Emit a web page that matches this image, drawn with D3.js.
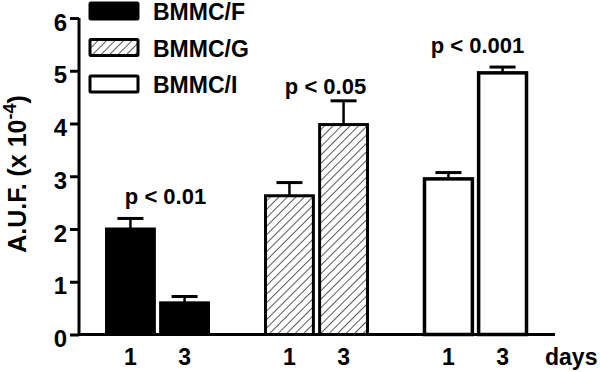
<!DOCTYPE html>
<html>
<head>
<meta charset="utf-8">
<script src="https://cdn.jsdelivr.net/npm/d3@7"></script>
<style>
  body { margin: 0; background: #fff; }
  text { font-family: "Liberation Sans", Arial, sans-serif; font-weight: bold; fill: #000; }
</style>
</head>
<body>
<div id="app"></div>
<script>
let groups = ['BMMC/F', 'BMMC/G', 'BMMC/I'];
let days = ['1', '3'];
let means = [[2.0, 0.6], [2.63, 3.98], [2.95, 4.96]];
let errors = [[0.2, 0.12], [0.25, 0.45], [0.12, 0.11]];
let pLabels = ['p < 0.01', 'p < 0.05', 'p < 0.001'];
let yTicks = [0, 1, 2, 3, 4, 5, 6];

let svgWidth = 600, svgHeight = 372;

// small nudges for the p labels, as placed in the figure
let pDx = [8, 9, 2];
let pDy = [-14, -7, -14];

let svg = d3.select('#app').append('svg')
    .attr('width', svgWidth)
    .attr('height', svgHeight);

// hatch pattern for the middle group
let defs = svg.append('defs');
defs.append('pattern')
    .attr('id', 'hatch')
    .attr('patternUnits', 'userSpaceOnUse')
    .attr('width', 6).attr('height', 6)
    .attr('patternTransform', 'rotate(45)')
  .append('line')
    .attr('x1', 0).attr('y1', 0).attr('x2', 0).attr('y2', 6)
    .attr('stroke', '#000').attr('stroke-width', 1.3);

let fills = ['#000', 'url(#hatch)', '#fff'];

let y = d3.scaleLinear().domain([0, 6]).range([334.5, 18]);
let x = d3.scaleBand().domain(groups).range([78, 555]);
let xInner = d3.scaleBand().domain(days).range([27, 132]).paddingInner(0.06);

let rows = [];
groups.forEach((g, i) => days.forEach((d, j) => rows.push({g: g, d: d, gi: i, v: means[i][j], e: errors[i][j]})));

let cx = r => x(r.g) + xInner(r.d) + xInner.bandwidth() / 2;

let bars = svg.append('g');
// error bars (drawn behind the bars, upper half only shows)
bars.selectAll('g.err').data(rows).enter().append('g').attr('class', 'err')
  .each(function(r) {
    let g = d3.select(this);
    g.append('line').attr('x1', cx(r)).attr('x2', cx(r))
        .attr('y1', y(r.v)).attr('y2', y(r.v + r.e))
        .attr('stroke', '#000').attr('stroke-width', 2.5);
    g.append('line').attr('x1', cx(r) - 13).attr('x2', cx(r) + 13)
        .attr('y1', y(r.v + r.e)).attr('y2', y(r.v + r.e))
        .attr('stroke', '#000').attr('stroke-width', 3);
  });

bars.selectAll('rect').data(rows).enter().append('rect')
    .attr('x', r => x(r.g) + xInner(r.d) + 1.5)
    .attr('width', xInner.bandwidth() - 3)
    .attr('y', r => y(r.v))
    .attr('height', r => y(0) - y(r.v))
    .attr('fill', r => fills[r.gi])
    .attr('stroke', '#000')
    .attr('stroke-width', r => r.gi == 2 ? 3.5 : 3);

// p labels
svg.append('g').selectAll('text').data(groups).enter().append('text')
    .attr('x', (g, i) => x(g) + x.bandwidth() / 2 + pDx[i])
    .attr('y', (g, i) => y(d3.max(means[i].map((m, j) => m + errors[i][j]))) + pDy[i])
    .attr('text-anchor', 'middle')
    .attr('font-size', 22)
    .text((g, i) => pLabels[i]);

// y axis
let yAxis = svg.append('g')
    .attr('transform', 'translate(79,0)')
    .call(d3.axisLeft(y).tickValues(yTicks).tickFormat(d3.format('d')).tickSize(9).tickPadding(3));
yAxis.select('.domain').attr('stroke-width', 3).attr('d', `M0,${y(6)}V${y(0)}`);
yAxis.selectAll('.tick line').attr('stroke-width', 3);
yAxis.selectAll('.tick text')
    .attr('font-size', 24)
    .attr('font-family', '"Liberation Sans", Arial, sans-serif')
    .attr('font-weight', 'bold')
    .attr('dy', '0.5em');

// x axis (line only, labels under each bar)
let xAxisG = svg.append('g');
xAxisG.append('line').attr('x1', 79).attr('x2', 555)
    .attr('y1', y(0)).attr('y2', y(0))
    .attr('stroke', '#000').attr('stroke-width', 3);
xAxisG.selectAll('text').data(rows).enter().append('text')
    .attr('x', cx)
    .attr('y', 365)
    .attr('text-anchor', 'middle')
    .attr('font-size', 23)
    .text(r => r.d);
xAxisG.append('text').attr('x', 545).attr('y', 365).attr('font-size', 23).text('days');

// y label
svg.append('text')
    .attr('transform', 'translate(26,174) rotate(-90)')
    .attr('text-anchor', 'middle')
    .attr('font-size', 25)
    .html('A.U.F. (x 10<tspan dy="-10" font-size="18">-4</tspan><tspan dy="10">)</tspan>');

// legend
let legend = svg.append('g').selectAll('g').data(groups).enter().append('g')
    .attr('transform', (g, i) => `translate(90,${3 + i * 36.5})`);
legend.append('rect')
    .attr('width', 48).attr('height', 16).attr('rx', 1)
    .attr('fill', (g, i) => fills[i])
    .attr('stroke', '#000').attr('stroke-width', 3);
legend.append('text')
    .attr('x', 63).attr('y', 17)
    .attr('font-size', 23)
    .text(g => g);
</script>
</body>
</html>
